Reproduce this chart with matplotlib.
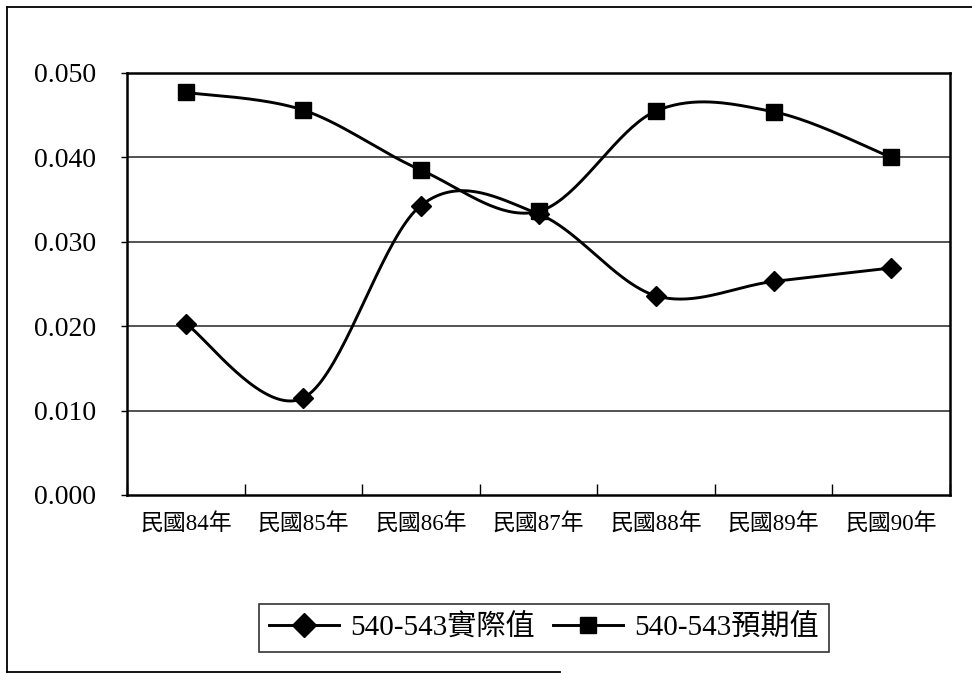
import numpy as np
import matplotlib
matplotlib.use("Agg")
import matplotlib.pyplot as plt
from matplotlib.lines import Line2D

plt.rcParams['font.family'] = ['Liberation Serif', 'Noto Sans CJK TC', 'DejaVu Sans']

categories = ['民國84年', '民國85年', '民國86年', '民國87年', '民國88年', '民國89年', '民國90年']
actual = [0.0203, 0.0115, 0.0343, 0.0333, 0.0236, 0.0253, 0.0269]
expected = [0.0477, 0.0456, 0.0385, 0.0336, 0.0455, 0.0454, 0.0400]
series_names = ['540-543實際值', '540-543預期值']
y_ticks = [0.000, 0.010, 0.020, 0.030, 0.040, 0.050]


def smooth(xs, ys, n=40):
    """Bezier-smoothed curve through the points (Catmull-Rom style)."""
    p = np.column_stack([xs, ys]).astype(float)
    ext = np.vstack([p[0], p, p[-1]])
    out = []
    t = np.linspace(0, 1, n)[:, None]
    for i in range(len(p) - 1):
        p0, p3 = ext[i + 1], ext[i + 2]
        c1 = p0 + (ext[i + 2] - ext[i]) / 6.0
        c2 = p3 - (ext[i + 3] - ext[i + 1]) / 6.0
        seg = ((1 - t) ** 3) * p0 + 3 * ((1 - t) ** 2) * t * c1 + 3 * (1 - t) * t ** 2 * c2 + t ** 3 * p3
        out.append(seg if i == 0 else seg[1:])
    out = np.vstack(out)
    return out[:, 0], out[:, 1]


fig = plt.figure(figsize=(9.72, 6.74), dpi=100)
ax = fig.add_axes([127 / 972, 1 - 495 / 674, (950 - 127) / 972, (495 - 73) / 674])

x = np.arange(len(categories))
lw = 2.1
for vals, mk, ms in [(actual, 'D', 10), (expected, 's', 11)]:
    sx, sy = smooth(x, vals)
    ax.plot(sx, sy, color='black', lw=lw, solid_capstyle='round', zorder=3)
    ax.plot(x, vals, linestyle='none', marker=mk, markersize=ms,
            color='black', zorder=4)

ax.set_xlim(-0.5, len(categories) - 0.5)
ax.set_ylim(0, 0.05)
ax.set_yticks(y_ticks)
ax.set_yticklabels([f'{v:.3f}' for v in y_ticks], fontsize=20)
ax.tick_params(axis='y', direction='out', length=4, width=1, pad=18)

# category labels sit between the boundary tick marks
ax.set_xticks(np.arange(len(categories) + 1) - 0.5)
ax.set_xticklabels([])
ax.tick_params(axis='x', which='major', direction='in', length=8, width=1)
ax.set_xticks(x, minor=True)
ax.set_xticklabels(categories, minor=True, fontsize=16.5,
                   family=['Liberation Serif', 'Noto Sans CJK TC'])
ax.tick_params(axis='x', which='minor', length=0, pad=13)

for v in y_ticks[1:-1]:
    ax.axhline(v, color='#444444', lw=1.3, zorder=1)

for s in ax.spines.values():
    s.set_linewidth(1.8)
    s.set_color('black')

handles = [
    Line2D([], [], color='black', lw=lw, marker='D', markersize=12),
    Line2D([], [], color='black', lw=lw, marker='s', markersize=11),
]
leg = fig.legend(handles, series_names, loc='center',
                 bbox_to_anchor=(544 / 972, 1 - 628 / 674), ncol=2,
                 frameon=True, fancybox=False, edgecolor='black',
                 handlelength=2.4, handletextpad=0.4, columnspacing=0.6,
                 borderpad=0.35,
                 prop={'family': ['Liberation Serif', 'Noto Sans CJK TC'], 'size': 21})
leg.get_frame().set_linewidth(1.2)

# outer chart frame
fig.add_artist(Line2D([7 / 972, 7 / 972], [1 - 672 / 674, 1 - 7 / 674],
                      transform=fig.transFigure, color='black', lw=1.3))
fig.add_artist(Line2D([7 / 972, 1.0], [1 - 7 / 674, 1 - 7 / 674],
                      transform=fig.transFigure, color='black', lw=1.3))
fig.add_artist(Line2D([7 / 972, 560 / 972], [1 - 672 / 674, 1 - 672 / 674],
                      transform=fig.transFigure, color='black', lw=1.3))

fig.savefig('out.png', dpi=100, facecolor='white')
